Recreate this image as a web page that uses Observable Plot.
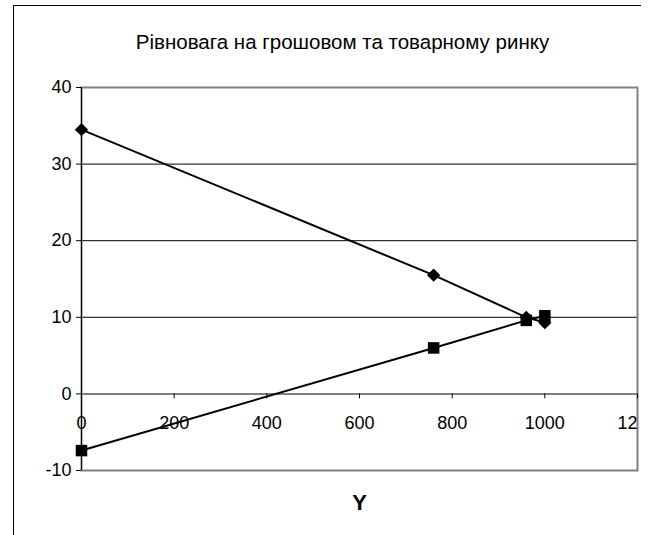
<!DOCTYPE html>
<html><head><meta charset="utf-8">
<script src="https://cdn.jsdelivr.net/npm/d3@7"></script>
<script src="https://cdn.jsdelivr.net/npm/@observablehq/plot@0.6"></script>
<style>
body{margin:0;background:#fff;}
#wrap{position:relative;width:653px;height:535px;overflow:hidden;}
#outer{position:absolute;left:13px;top:5px;width:627px;height:540px;border-left:1px solid #000;border-top:1px solid #000;}
#chart{position:absolute;left:0;top:0;}
</style></head><body>
<div id="wrap"><div id="outer"></div><div id="chart"></div></div>
<script>
const title = "Рівновага на грошовом та товарному ринку";
const xLabel = "Y";
const isX = [0, 760, 960, 1000];
const isR = [34.5, 15.5, 10, 9.3];
const lmX = [0, 760, 960, 1000];
const lmR = [-7.4, 6, 9.6, 10.2];
const xTicks = [0, 200, 400, 600, 800, 1000, 1200];
const yTicks = [-10, 0, 10, 20, 30, 40];
const gridTicks = [10, 20, 30];

const isData = isX.map((x, i) => ({x, y: isR[i]}));
const lmData = lmX.map((x, i) => ({x, y: lmR[i]}));
const xMax = d3.max(xTicks);

const chart = Plot.plot({
  width: 653,
  height: 535,
  marginLeft: 81,
  marginRight: 16,
  marginTop: 87,
  marginBottom: 65,
  style: {fontFamily: "'Liberation Sans', Arial, sans-serif", fontSize: "18px", color: "#000", background: "transparent"},
  x: {domain: [0, xMax], axis: null},
  y: {domain: [-10, 40], axis: null},
  marks: [
    Plot.ruleY(gridTicks, {stroke: "#000", strokeWidth: 1}),
    Plot.frame({stroke: "#808080", strokeWidth: 2}),
    Plot.ruleY([0], {stroke: "#808080", strokeWidth: 2}),
    Plot.ruleX(xTicks, {x: d => d, y1: 0, y2: 0, insetBottom: -5, stroke: "#000"}),
    Plot.axisY(yTicks, {tickSize: 5, tickPadding: 5, fontSize: 18, stroke: "#000", label: null, tickFormat: d => String(d)}),
    Plot.ruleX([0], {stroke: "#000", strokeWidth: 1}),
    Plot.text(xTicks.filter(d => d < xMax), {x: d => d, y: 0, dy: 29, text: d => String(d), fontSize: 18}),
    Plot.text(xTicks.filter(d => d >= xMax), {x: d => d, y: 0, dy: 29, text: d => String(d), fontSize: 18, clip: true}),
    Plot.line(isData, {x: "x", y: "y", stroke: "#000", strokeWidth: 2}),
    Plot.line(lmData, {x: "x", y: "y", stroke: "#000", strokeWidth: 2}),
    Plot.dot(isData, {x: "x", y: "y", symbol: "diamond2", r: 6, fill: "#000"}),
    Plot.dot(lmData, {x: "x", y: "y", symbol: "square", r: 6.5, fill: "#000"}),
    Plot.text([title], {frameAnchor: "top", dx: -17, dy: -39, lineAnchor: "bottom", fontSize: 20.5, text: d => d, style: "letter-spacing:-0.2px"}),
    Plot.text([xLabel], {frameAnchor: "bottom", dy: 39, fontSize: 22, fontWeight: "bold", text: d => d})
  ]
});
document.getElementById("chart").appendChild(chart);
</script>
</body></html>
